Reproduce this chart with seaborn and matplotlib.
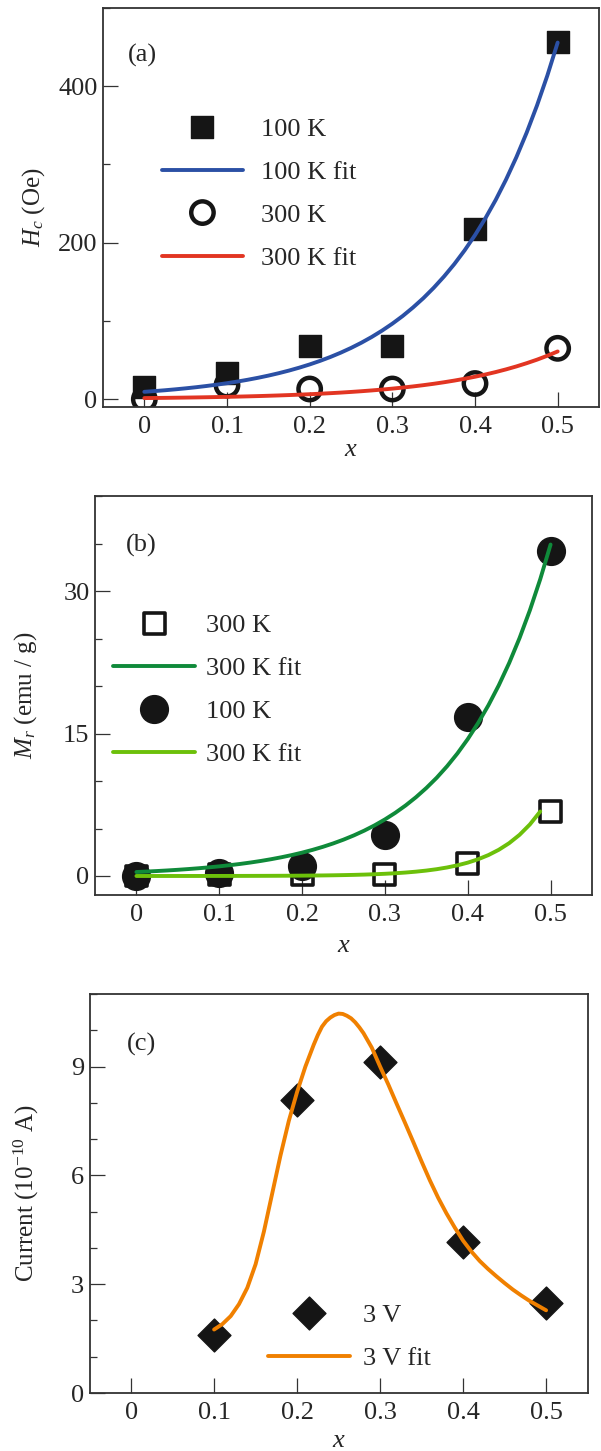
import matplotlib
matplotlib.use("Agg")
import matplotlib.pyplot as plt
import seaborn as sns
from matplotlib.ticker import MultipleLocator

# shared x axis
x_ticks = [0, 0.1, 0.2, 0.3, 0.4, 0.5]
x_tick_labels = ["0", "0.1", "0.2", "0.3", "0.4", "0.5"]

# panel (a): coercivity H_c (Oe)
x_samples = [0, 0.1, 0.2, 0.3, 0.4, 0.5]
hc_100k = [15, 33, 68, 68, 218, 456]
hc_300k = [0, 18, 13, 13, 20, 65]
fit_x = [0, 0.0125, 0.025, 0.0375, 0.05, 0.0625, 0.075, 0.0875, 0.1, 0.1125,
         0.125, 0.1375, 0.15, 0.1625, 0.175, 0.1875, 0.2, 0.2125, 0.225, 0.2375,
         0.25, 0.2625, 0.275, 0.2875, 0.3, 0.3125, 0.325, 0.3375, 0.35, 0.3625,
         0.375, 0.3875, 0.4, 0.4125, 0.425, 0.4375, 0.45, 0.4625, 0.475, 0.4875, 0.5]
hc_100k_fit = [9.4, 10.36, 11.41, 12.58, 13.86, 15.27, 16.83, 18.54, 20.43, 22.51,
               24.81, 27.33, 30.12, 33.19, 36.57, 40.30, 44.40, 48.93, 53.91, 59.41,
               65.46, 72.13, 79.48, 87.58, 96.50, 106.3, 117.2, 129.1, 142.3, 156.8,
               172.7, 190.3, 209.7, 231.1, 254.6, 280.6, 309.2, 340.7, 375.4, 413.6, 455.8]
hc_300k_fit = [1.40, 1.54, 1.69, 1.86, 2.04, 2.24, 2.47, 2.71, 2.98, 3.27,
               3.60, 3.95, 4.35, 4.78, 5.25, 5.77, 6.34, 6.97, 7.66, 8.41,
               9.25, 10.16, 11.17, 12.27, 13.49, 14.82, 16.29, 17.90, 19.67, 21.62,
               23.76, 26.11, 28.69, 31.53, 34.65, 38.08, 41.85, 46.0, 50.5, 55.5, 61.0]

# panel (b): remanence M_r (emu / g)
mr_300k = [0, 0.2, 0.1, 0.2, 1.33, 6.76]
mr_100k = [0, 0.35, 1.05, 4.28, 16.7, 34.2]
mr_fit_dark = [0.42, 0.469, 0.524, 0.585, 0.653, 0.730, 0.815, 0.910, 1.016, 1.135,
               1.268, 1.416, 1.581, 1.766, 1.972, 2.203, 2.460, 2.747, 3.068, 3.427,
               3.827, 4.274, 4.773, 5.331, 5.954, 6.649, 7.426, 8.294, 9.263, 10.34,
               11.55, 12.90, 14.41, 16.10, 17.98, 20.08, 22.42, 25.04, 27.97, 31.24, 34.89]
# light fit stops just short of x = 0.5
mr_fit_light = [0.0011, 0.0013, 0.0016, 0.0021, 0.0026, 0.0032, 0.0040, 0.0051, 0.0063, 0.0079,
                0.0099, 0.0125, 0.0156, 0.0196, 0.0245, 0.0307, 0.0384, 0.0481, 0.0603, 0.0755,
                0.0945, 0.118, 0.148, 0.186, 0.233, 0.291, 0.365, 0.457, 0.572, 0.716,
                0.897, 1.123, 1.406, 1.761, 2.205, 2.762, 3.459, 4.331, 5.424, 6.792]

# panel (c): current at 3 V (1e-10 A)
cur_x = [0.1, 0.2, 0.3, 0.4, 0.5]
cur_3v = [1.61, 8.07, 9.13, 4.17, 2.49]
cur_fit_x = [0.10, 0.11, 0.12, 0.13, 0.14, 0.15, 0.16, 0.17, 0.18, 0.19, 0.20,
             0.21, 0.22, 0.225, 0.23, 0.235, 0.24, 0.245, 0.25, 0.255, 0.26, 0.265,
             0.27, 0.275, 0.28, 0.29, 0.30,
             0.31, 0.32, 0.33, 0.34, 0.35, 0.36, 0.37, 0.38, 0.39, 0.40,
             0.41, 0.42, 0.43, 0.44, 0.45, 0.46, 0.47, 0.48, 0.49, 0.50]
cur_fit = [1.75, 1.90, 2.12, 2.45, 2.90, 3.55, 4.45, 5.5, 6.55, 7.5, 8.3,
           9.0, 9.6, 9.87, 10.1, 10.25, 10.35, 10.42, 10.46, 10.45, 10.4, 10.33,
           10.22, 10.08, 9.92, 9.52, 9.0,
           8.5, 7.97, 7.45, 6.92, 6.38, 5.86, 5.38, 4.95, 4.56, 4.2,
           3.9, 3.64, 3.42, 3.22, 3.03, 2.85, 2.69, 2.54, 2.41, 2.28]

INK = "#151515"
FS = 19

sns.set_style("ticks")
plt.rcParams["font.family"] = ["Liberation Serif", "DejaVu Serif"]
plt.rcParams["mathtext.fontset"] = "custom"
plt.rcParams["mathtext.rm"] = "Liberation Serif"
plt.rcParams["mathtext.it"] = "Liberation Serif:italic"


def style_axes(ax, ylim, major, minor, ylabel, ylabel_x, xlabel_y, tag, tag_xy):
    ax.set_xlim(-0.05, 0.55)
    ax.set_ylim(*ylim)
    ax.set_xticks(x_ticks)
    ax.set_xticklabels(x_tick_labels)
    ax.yaxis.set_major_locator(MultipleLocator(major))
    ax.yaxis.set_minor_locator(MultipleLocator(minor))
    ax.tick_params(which="both", direction="in", top=False, right=False,
                   labelsize=FS, width=0.9, color="#333333")
    ax.tick_params(axis="x", pad=6.5)
    ax.tick_params(axis="y", pad=4)
    ax.tick_params(which="major", length=11)
    ax.tick_params(which="minor", length=5)
    for sp in ax.spines.values():
        sp.set_visible(True)
        sp.set_linewidth(1.3)
        sp.set_color("#333333")
    ax.set_xlabel("$x$", fontsize=FS, va="center")
    ax.set_ylabel(ylabel, fontsize=18, va="center")
    ax.xaxis.set_label_coords(0.5, xlabel_y)
    ax.yaxis.set_label_coords(ylabel_x, 0.5)
    ax.text(tag_xy[0], tag_xy[1], tag, transform=ax.transAxes, fontsize=FS, ha="left", va="center")


def legend(ax, anchor, textpad):
    ax.legend(loc="upper left", bbox_to_anchor=anchor, frameon=False, fontsize=FS,
              handlelength=3.1, handletextpad=textpad, labelspacing=0.74,
              borderpad=0, borderaxespad=0, scatteryoffsets=[0.5])


fig = plt.figure(figsize=(6.01, 14.51), dpi=100)

# (a)
ax_a = fig.add_axes([103 / 601, 1 - 407 / 1451, 496 / 601, 399 / 1451])
sns.scatterplot(x=x_samples, y=hc_100k, marker="s", s=272, color=INK, edgecolor=INK, linewidth=1, label="100 K", ax=ax_a)
sns.lineplot(x=fit_x, y=hc_100k_fit, color="#2b50a5", lw=2.8, solid_capstyle="round", label="100 K fit", ax=ax_a)
sns.scatterplot(x=x_samples, y=hc_300k, marker="o", s=260, color=INK, facecolor="none", edgecolor=INK, linewidth=3.2, label="300 K", ax=ax_a)
sns.lineplot(x=fit_x, y=hc_300k_fit, color="#e23522", lw=2.8, solid_capstyle="round", label="300 K fit", ax=ax_a)
style_axes(ax_a, (-10, 500), 200, 100, "$H_c$ (Oe)", -0.139, -0.108, "(a)", (0.05, 0.88))
legend(ax_a, (0.118, 0.726), 0.66)

# (b)
ax_b = fig.add_axes([95 / 601, 1 - 895 / 1451, 497 / 601, 399 / 1451])
sns.scatterplot(x=x_samples, y=mr_300k, marker="s", s=225, color=INK, facecolor="none", edgecolor=INK, linewidth=2.6, label="300 K", ax=ax_b)
sns.lineplot(x=fit_x, y=mr_fit_dark, color="#0f8a3a", lw=2.8, solid_capstyle="round", label="300 K fit", ax=ax_b)
sns.scatterplot(x=x_samples, y=mr_100k, marker="o", s=400, color=INK, edgecolor=INK, linewidth=1, label="100 K", ax=ax_b)
sns.lineplot(x=fit_x[:len(mr_fit_light)], y=mr_fit_light, color="#6cc00a", lw=2.8, solid_capstyle="round", label="300 K fit", ax=ax_b)
style_axes(ax_b, (-2, 40), 15, 5, "$M_r$ (emu / g)", -0.139, -0.128, "(b)", (0.062, 0.876))
legend(ax_b, (0.0368, 0.7045), 0.42)

# (c)
ax_c = fig.add_axes([89.6 / 601, 1 - 1393 / 1451, 498 / 601, 399 / 1451])
sns.scatterplot(x=cur_x, y=cur_3v, marker="D", s=280, color=INK, edgecolor=INK, linewidth=1, label="3 V", ax=ax_c)
sns.lineplot(x=cur_fit_x, y=cur_fit, color="#f08000", lw=2.8, solid_capstyle="round", label="3 V fit", ax=ax_c)
style_axes(ax_c, (0, 11), 3, 1, "Current (10$^{-10}$ A)", -0.127, -0.12, "(c)", (0.075, 0.874))
legend(ax_c, (0.358, 0.2245), 0.5)

fig.savefig("out.png", dpi=100)
